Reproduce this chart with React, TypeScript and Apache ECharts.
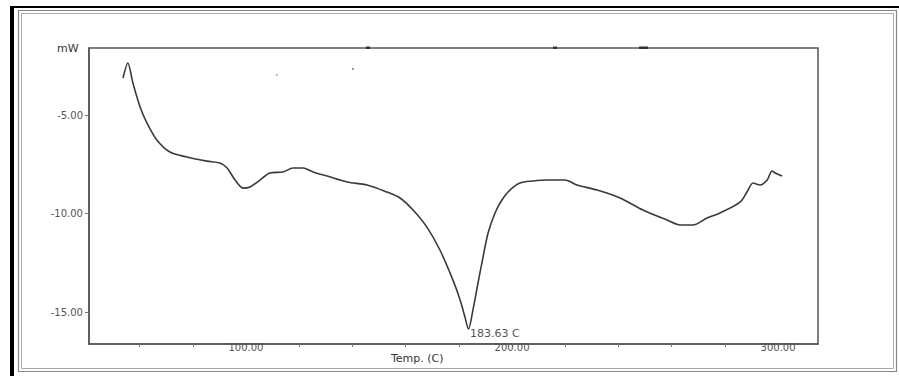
import React, { useEffect, useRef } from "react";
import * as echarts from "echarts";

// Temperature (C) and heat flow (mW)
const temps = [
  53.8, 55.6, 57.5, 60.2, 62.8, 66.5, 71.4, 77.8, 85.3, 90.2, 92.9, 95.9, 98.9, 101.5, 105.3,
  109.0, 113.9, 117.7, 121.4, 125.2, 130.5, 138.0, 145.5, 153.0, 157.9, 162.8, 168.0, 172.9,
  177.8, 180.5, 182.3, 183.63, 185.3, 187.2, 189.1, 191.0, 193.6, 196.2, 199.2, 203.0, 207.9,
  213.2, 219.9, 224.4, 232.0, 240.6, 249.2, 258.3, 263.2, 268.0, 273.3, 278.2, 285.7, 288.3,
  290.6, 293.2, 295.9, 297.7, 298.9, 301.5,
];
const heatFlow = [
  -3.12, -2.36, -3.38, -4.59, -5.41, -6.27, -6.88, -7.13, -7.34, -7.44, -7.69, -8.3, -8.71,
  -8.65, -8.3, -7.94, -7.89, -7.69, -7.69, -7.89, -8.1, -8.4, -8.55, -8.91, -9.21, -9.82,
  -10.69, -11.85, -13.38, -14.39, -15.25, -15.86, -14.9, -13.53, -12.21, -10.99, -9.97, -9.31,
  -8.81, -8.45, -8.35, -8.3, -8.3, -8.55, -8.81, -9.21, -9.82, -10.33, -10.58, -10.58, -10.23,
  -9.97, -9.42, -8.91, -8.45, -8.55, -8.3, -7.84, -7.94, -8.1,
];
const xTickValues = [60, 80, 100, 120, 140, 160, 180, 200, 220, 240, 260, 280, 300];
const xLabelValues = [100, 200, 300];
const yLabelValues = [-5, -10, -15];
const peakLabel = "183.63 C";
const yAxisUnit = "mW";
const xAxisTitle = "Temp. (C)";

export default function App() {
  const ref = useRef<HTMLDivElement>(null);

  useEffect(() => {
    const chart = echarts.init(ref.current!, null, { renderer: "svg" });
    const data = temps.map((t, i) => [t, heatFlow[i]]);
    let minIdx = 0;
    heatFlow.forEach((v, i) => {
      if (v < heatFlow[minIdx]) minIdx = i;
    });
    const axisColor = "#555";
    const labelStyle = {
      fontFamily: "DejaVu Sans",
      fontSize: 10,
      color: "#555",
    };
    chart.setOption({
      animation: false,
      backgroundColor: "#fff",
      grid: {
        left: 89,
        right: 81,
        top: 48,
        bottom: 32,
        show: true,
        borderColor: axisColor,
        borderWidth: 1.5,
        containLabel: false,
        outerBoundsMode: "none",
      },
      xAxis: {
        type: "value",
        min: 41,
        max: 315,
        axisLine: { show: true, onZero: false, lineStyle: { color: axisColor, width: 1.5 } },
        axisTick: {
          show: true,
          customValues: xTickValues,
          length: 3,
          lineStyle: { color: "#777", width: 1 },
        },
        axisLabel: {
          ...labelStyle,
          customValues: xLabelValues,
          margin: -2,
          formatter: (v: number) => v.toFixed(2),
        },
        splitLine: { show: false },
      },
      yAxis: {
        type: "value",
        min: -16.62,
        max: -1.6,
        axisLine: { show: true, onZero: false, lineStyle: { color: axisColor, width: 1.5 } },
        axisTick: {
          show: true,
          customValues: yLabelValues,
          length: 4,
          lineStyle: { color: "#777", width: 1 },
        },
        axisLabel: {
          ...labelStyle,
          customValues: yLabelValues,
          margin: 6,
          formatter: (v: number) => v.toFixed(2),
        },
        splitLine: { show: false },
      },
      series: [
        {
          type: "line",
          data,
          showSymbol: false,
          symbol: "none",
          smooth: 0.3,
          lineStyle: { color: "#3a3a3a", width: 1.6 },
          markPoint: {
            symbol: "circle",
            symbolSize: 1,
            itemStyle: { color: "rgba(0,0,0,0)" },
            data: [
              {
                coord: [temps[minIdx], heatFlow[minIdx]],
                label: {
                  show: true,
                  position: "right",
                  distance: 1,
                  offset: [0, 4],
                  formatter: peakLabel,
                  fontFamily: "DejaVu Sans",
                  fontSize: 11,
                  color: "#555",
                },
              },
            ],
          },
        },
      ],
      graphic: [
        // frame
        { type: "rect", shape: { x: 10, y: 6, width: 4, height: 370 }, style: { fill: "#000" }, z: 10 },
        { type: "rect", shape: { x: 10, y: 6, width: 889, height: 2 }, style: { fill: "#000" }, z: 10 },
        {
          type: "rect",
          shape: { x: 18.5, y: 10.5, width: 878, height: 361 },
          style: { fill: "none", stroke: "#888", lineWidth: 1.2 },
          z: 10,
        },
        {
          type: "rect",
          shape: { x: 21.5, y: 13.5, width: 872, height: 355 },
          style: { fill: "none", stroke: "#aaa", lineWidth: 1 },
          z: 10,
        },
        // specks on the top border
        { type: "rect", shape: { x: 366, y: 46.5, width: 4, height: 2.5 }, style: { fill: "#333" }, z: 10 },
        { type: "rect", shape: { x: 553, y: 46.5, width: 4, height: 2.5 }, style: { fill: "#333" }, z: 10 },
        { type: "rect", shape: { x: 639, y: 46.5, width: 9, height: 2.5 }, style: { fill: "#333" }, z: 10 },
        { type: "rect", shape: { x: 352, y: 68, width: 2, height: 2 }, style: { fill: "#999" }, z: 10 },
        { type: "rect", shape: { x: 276, y: 74, width: 2, height: 2 }, style: { fill: "#bbb" }, z: 10 },
        {
          type: "text",
          left: 57,
          top: 43,
          style: {
            text: yAxisUnit,
            fontFamily: "DejaVu Sans",
            fontSize: 11,
            fill: "#333",
          },
          z: 10,
        },
        {
          type: "text",
          left: 391,
          top: 353,
          style: {
            text: xAxisTitle,
            fontFamily: "DejaVu Sans",
            fontSize: 11,
            fill: "#333",
          },
          z: 10,
        },
      ],
    });
    return () => chart.dispose();
  }, []);

  return (
    <div
      ref={ref}
      style={{ position: "absolute", left: 0, top: 0, width: 899, height: 376 }}
    />
  );
}
